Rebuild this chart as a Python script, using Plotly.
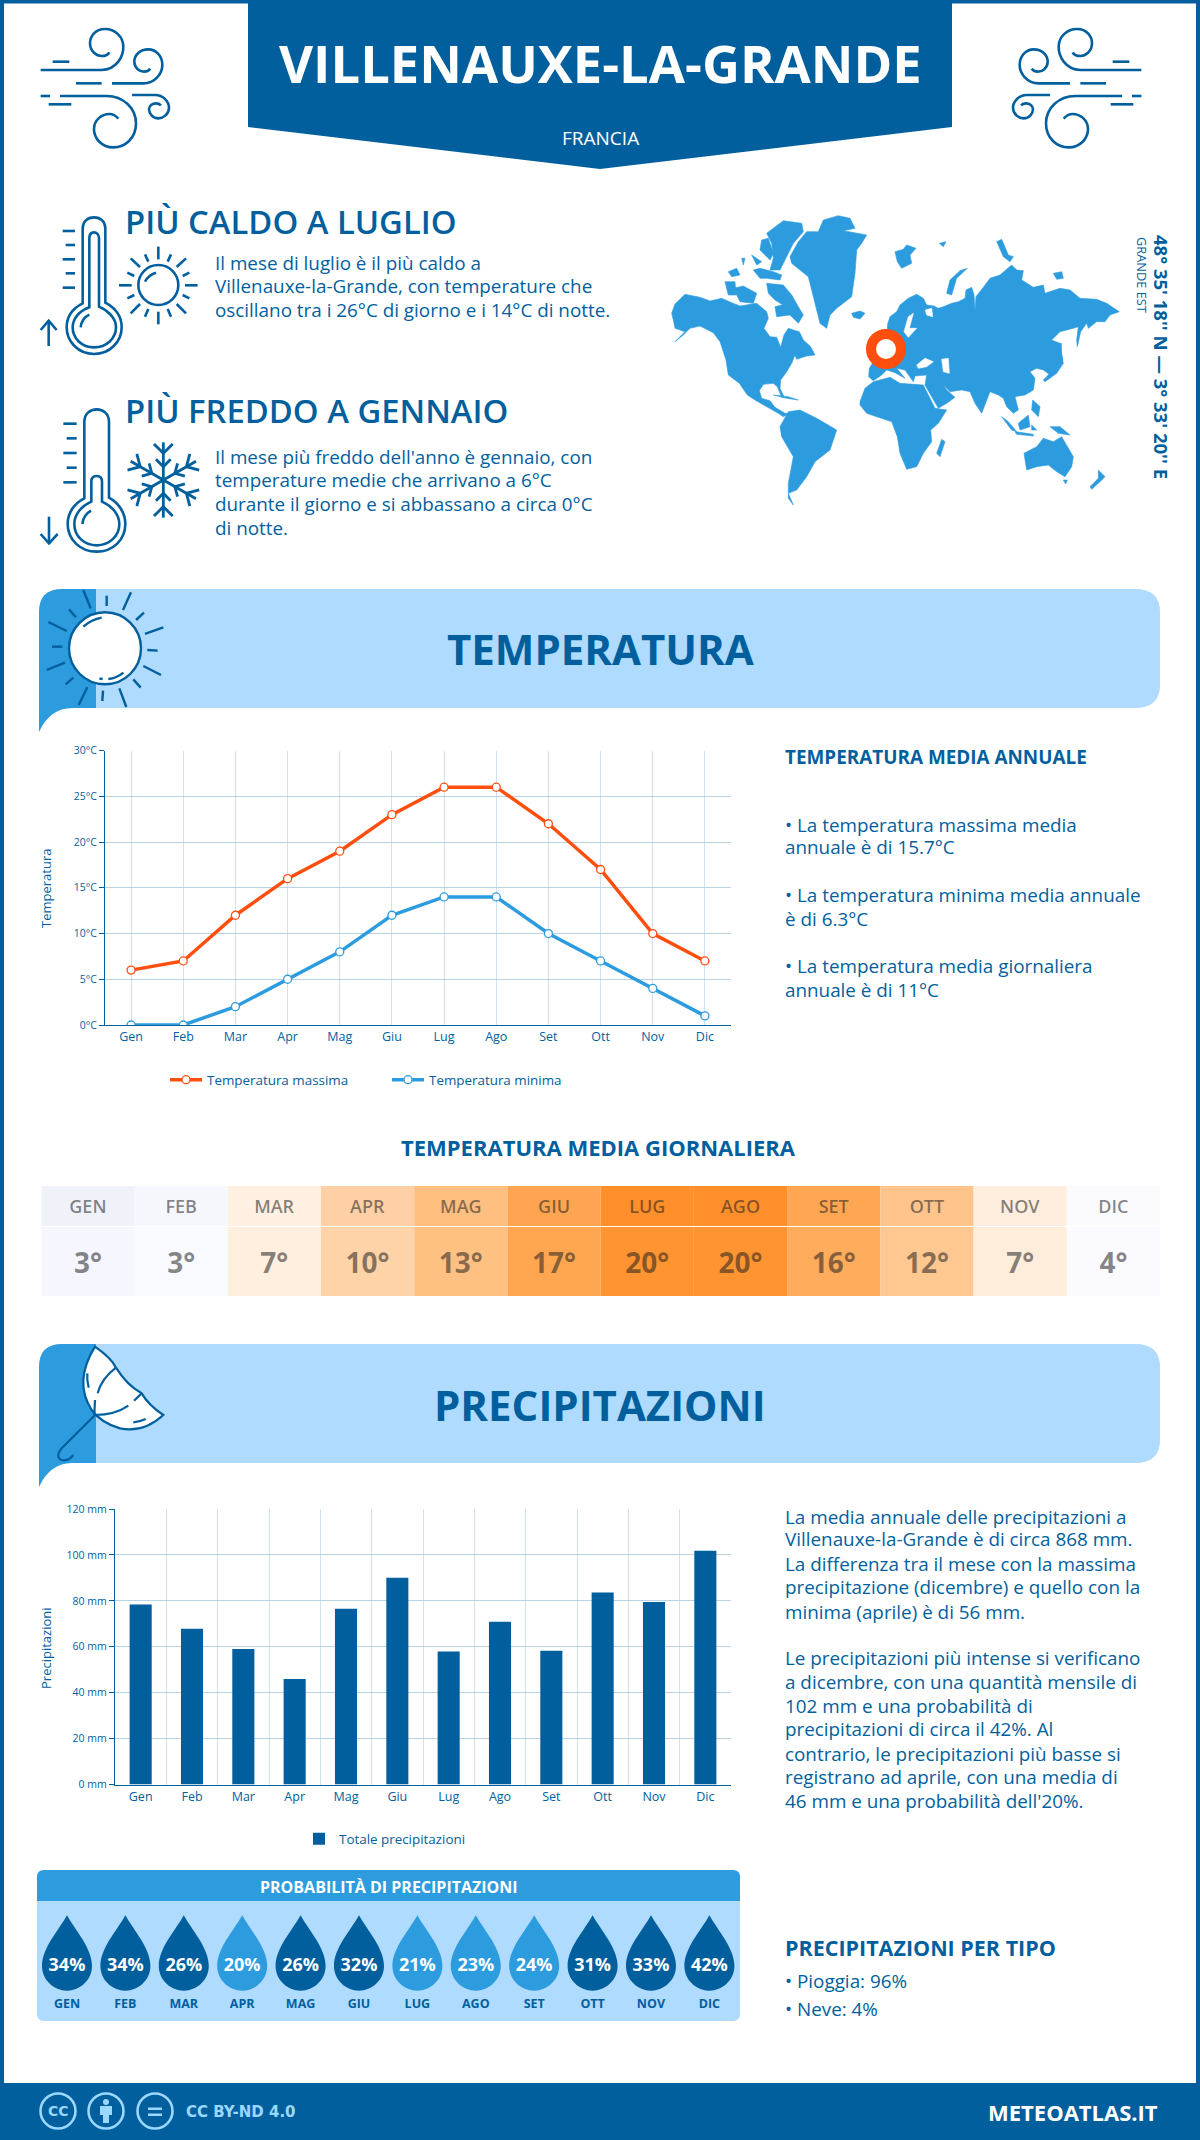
import re, math
import plotly.graph_objects as go

# ---------- data ----------
MONTHS = ["Gen","Feb","Mar","Apr","Mag","Giu","Lug","Ago","Set","Ott","Nov","Dic"]
MONTHS_UP = ["GEN","FEB","MAR","APR","MAG","GIU","LUG","AGO","SET","OTT","NOV","DIC"]
TEMP_MAX = [6,7,12,16,19,23,26,26,22,17,10,7]
TEMP_MIN = [0,0,2,5,8,12,14,14,10,7,4,1]
TEMP_AVG = [3,3,7,10,13,17,20,20,16,12,7,4]
PRECIP = [78.4,67.8,59,45.9,76.6,90,57.9,70.9,58.3,83.6,79.5,101.8]
PROB = [34,34,26,20,26,32,21,23,24,31,33,42]
VAL_COLORS = ["#f5f6ff","#f9faff","#ffefdf","#ffd3a8","#ffc182","#ffa750","#ff9430","#ff9430","#ffac5c","#ffc890","#ffeddb","#fbfbff"]
HEAD_COLORS = ["#f0f2fa","#f6f7fc","#fff0e2","#ffd0a5","#ffbf80","#ffa552","#ff8f2a","#ff8f2a","#ffa653","#ffc48b","#ffeedd","#fbfbfe"]

# ---------- style ----------
W, H = 1200, 2140
BLUE = "#025f9e"; MID = "#2d9cdf"; LIGHT = "#afdbff"; ORANGE = "#ff4e0d"; WHITE = "#ffffff"
FONT = "Open Sans"
GRID_H = "#b9d3e6"; GRID_V = "#cfe2f0"
BODY = 18.85

def X(x): return x / W
def Y(y): return 1 - y / H

shapes, annos = [], []

def conv(d, ox=0, oy=0, s=1.0, mirror=None):
    def rep(m):
        x = ox + float(m.group(1)) * s
        y = oy + float(m.group(2)) * s
        if mirror is not None:
            x = mirror - x
        return f"{X(x):.5f},{Y(y):.5f}"
    return re.sub(r"(-?[\d.]+)[, ]+(-?[\d.]+)", rep, d)

def path(d, fill=None, stroke=None, w=0, **tf):
    sh = dict(type="path", xref="paper", yref="paper", layer="below", path=conv(d, **tf))
    sh["fillcolor"] = fill if fill else "rgba(0,0,0,0)"
    sh["line"] = dict(color=stroke if stroke else "rgba(0,0,0,0)", width=w)
    shapes.append(sh)

def poly(pts, fill=MID, **tf):
    d = "M" + " L".join(f"{a},{b}" for a, b in pts) + " Z"
    path(d, fill=fill, stroke=fill, w=0.6, **tf)

def circle(cx, cy, r, fill=None, stroke=None, w=0):
    shapes.append(dict(type="circle", xref="paper", yref="paper", layer="below",
                       x0=X(cx-r), x1=X(cx+r), y0=Y(cy+r), y1=Y(cy-r),
                       fillcolor=fill if fill else "rgba(0,0,0,0)",
                       line=dict(color=stroke if stroke else "rgba(0,0,0,0)", width=w)))

def rect(x0, y0, x1, y1, fill):
    shapes.append(dict(type="rect", xref="paper", yref="paper", layer="below",
                       x0=X(x0), x1=X(x1), y0=Y(y1), y1=Y(y0), fillcolor=fill, line=dict(width=0)))

def txt(x, y, s, size=BODY, color=BLUE, weight=400, anchor="left", angle=0, family=FONT, yanchor="middle"):
    annos.append(dict(x=X(x), y=Y(y), xref="paper", yref="paper", text=s, showarrow=False,
                      xanchor=anchor, yanchor=yanchor, textangle=angle, borderpad=0, borderwidth=0,
                      font=dict(family=family, size=size, color=color, weight=weight)))

# ---------- frame ----------
rect(0, 0, W, 3.5, BLUE); rect(0, 0, 4, H, BLUE); rect(W-4, 0, W, H, BLUE)
rect(0, 2083, W, H, BLUE)
path("M248,0 L952,0 L952,127 L600,169 L248,127 Z", fill=BLUE)

# ---------- wind icons ----------
WIND = [
 "M62,180 L245,180 C290,178 310,140 310,110 C310,80 285,57 255,57 C225,57 210,80 210,100 C210,125 230,138 245,138 C255,138 265,133 268,127",
 "M276,220 L370,220 C405,220 427,190 427,165 C427,135 405,118 385,118 C360,118 343,135 343,155 C343,175 360,185 372,185 C382,185 388,180 391,176",
 "M98,155 L148,155", "M168,220 L245,220", "M62,258 L90,258",
 "M120,258 L260,258 C310,258 348,295 348,340 C348,385 315,412 280,412 C245,412 222,385 222,358 C222,330 245,312 268,312 C280,312 290,320 295,326",
 "M86,283 L154,283",
 "M336,255 L405,255 C430,255 447,275 447,293 C447,312 430,325 415,325 C398,325 387,310 387,298 C387,288 397,280 408,280 C415,280 420,283 423,286",
]
for d in WIND:
    path(d, stroke=BLUE, w=2.6, ox=20, oy=10, s=1/3)
    path(d, stroke=BLUE, w=2.6, ox=20, oy=10, s=1/3, mirror=1182)

# ---------- hot thermometer ----------
tf = dict(ox=30, oy=200, s=1/3)
for d in [
 "M158,310 L158,85 C158,65 172,52 192,52 C212,52 226,65 226,85 L226,308 C258,325 275,350 275,382 C275,425 240,462 192,462 C145,462 110,425 110,382 C110,350 128,325 158,310 Z",
 "M178,322 L178,115 C178,103 184,97 192,97 C200,97 207,103 207,115 L207,320 C235,332 258,355 258,382 C258,415 230,442 192,442 C155,442 128,415 128,382 C128,355 150,332 178,322 Z",
 "M152,382 Q155,355 178,344",
 "M98,93 L135,93","M107,135 L135,135","M98,178 L135,178","M107,220 L135,220","M98,263 L135,263",
 "M56,438 L56,362","M32,390 L56,362 L80,390",
 "M345,245 Q355,225 378,218",
 "M385,140 L385,178","M385,335 L385,373","M267,256 L305,256","M465,256 L503,256",
 "M302,175 L330,201","M468,175 L440,201","M302,340 L330,312","M468,340 L440,312",
 "M345,163 L355,185","M423,163 L413,185","M345,350 L355,327","M423,350 L413,327",
 "M292,218 L313,228","M478,218 L458,228","M292,295 L313,285","M478,295 L458,285",
]:
    path(d, stroke=BLUE, w=2.6, **tf)
circle(30+385/3, 200+255/3, 20, stroke=BLUE, w=2.6)

# ---------- cold thermometer ----------
tf = dict(ox=30, oy=400, s=1/3)
for d in [
 "M163,295 L163,65 C163,42 180,28 200,28 C220,28 237,42 237,65 L237,293 C268,310 286,340 286,372 C286,420 248,455 200,455 C152,455 113,420 113,372 C113,340 132,310 163,295 Z",
 "M184,305 L184,245 C184,233 190,228 200,228 C210,228 216,233 216,245 L216,305 C245,318 268,342 268,372 C268,408 238,436 200,436 C162,436 133,408 133,372 C133,342 155,318 184,305 Z",
 "M157,372 Q160,345 183,332",
 "M100,71 L140,71","M110,115 L140,115","M100,159 L140,159","M110,203 L140,203","M100,247 L140,247",
 "M57,350 L57,430","M32,402 L57,430 L83,402",
]:
    path(d, stroke=BLUE, w=2.6, **tf)
cx, cy = 400, 240
for a in range(6):
    t = math.radians(90 + 60*a)
    ux, uy = math.cos(t), -math.sin(t)
    vx, vy = -uy, ux
    def pt(r, o): return f"{cx+ux*r+vx*o:.1f},{cy+uy*r+vy*o:.1f}"
    path(f"M{cx},{cy} L{pt(113,0)}", stroke=BLUE, w=2.8, **tf)
    path(f"M{pt(108,-28)} L{pt(80,0)} L{pt(108,28)}", stroke=BLUE, w=2.8, **tf)
    path(f"M{pt(62,-22)} L{pt(40,0)} L{pt(62,22)}", stroke=BLUE, w=2.8, **tf)

# ---------- world map (rough outlines) ----------
mp = dict(ox=660, oy=200, s=1/3)
LAND = [
 [(35,340),(45,312),(75,283),(120,292),(150,303),(185,295),(215,308),(240,318),(290,310),(320,335),(325,355),(312,385),(330,410),(350,412),(362,442),(372,405),(385,385),(400,390),(418,395),(430,420),(452,440),(465,465),(440,468),(410,478),(405,465),(395,490),(380,515),(362,540),(360,565),(372,590),(365,592),(352,560),(340,550),(310,553),(298,572),(305,595),(330,602),(345,622),(375,640),(390,640),(370,650),(355,640),(320,620),(285,600),(262,585),(238,550),(205,525),(198,480),(180,425),(160,398),(120,378),(90,385),(70,405),(45,425),(60,410),(75,395),(45,385),(40,360)],
 [(195,245),(225,245),(228,285),(205,285)],
 [(220,265),(250,258),(290,280),(280,310),(240,305)],
 [(205,215),(230,205),(240,225),(215,230)],
 [(280,210),(300,205),(340,215),(365,225),(360,240),(320,235),(300,235)],
 [(320,250),(370,255),(395,285),(415,320),(430,345),(415,370),(390,345),(385,325),(345,300),(325,280)],
 [(305,120),(325,115),(340,160),(330,180),(300,150)],
 [(320,100),(370,62),(425,70),(430,95),(400,130),(385,160),(360,210),(330,210),(340,175),(335,130)],
 [(245,175),(255,175),(250,195)], [(275,165),(305,185),(290,195)], [(345,320),(385,310),(390,345),(350,350)],
 [(415,125),(440,95),(475,95),(490,60),(535,47),(570,55),(585,85),(550,92),(620,105),(605,130),(590,150),(585,220),(575,290),(530,325),(510,345),(500,385),(480,370),(465,310),(445,230),(395,190),(390,170)],
 [(575,340),(600,333),(615,340),(600,357),(580,352)],
 [(705,155),(730,148),(740,135),(768,145),(750,165),(755,190),(725,205),(712,185)],
 [(838,130),(858,125),(850,140)],
 [(860,280),(870,240),(900,212),(922,205),(890,235),(875,285)],
 [(1010,125),(1025,118),(1045,165),(1060,170),(1050,185),(1030,170)],
 [(1180,220),(1205,215),(1210,235),(1190,238)],
 # Eurasia
 [(683,372),(690,350),(710,335),(720,315),(745,295),(770,283),(790,295),(800,315),(822,318),(835,325),(850,320),(875,310),(895,305),(915,295),(918,270),(935,262),(942,285),(945,330),(948,290),(970,262),(990,235),(1020,225),(1055,195),(1070,210),(1090,212),(1085,240),(1120,262),(1150,255),(1155,280),(1200,265),(1230,270),(1260,295),(1310,298),(1340,310),(1378,335),(1350,345),(1335,365),(1310,365),(1285,385),(1280,370),(1262,395),(1252,440),(1250,420),(1255,380),(1240,385),(1200,395),(1175,420),(1200,430),(1208,480),(1195,500),(1170,525),(1150,510),(1130,505),(1110,515),(1125,535),(1120,570),(1095,585),(1065,590),(1075,630),(1060,640),(1040,620),(1030,595),(1015,585),(990,575),(965,640),(945,610),(930,575),(905,570),(870,575),(850,555),(860,570),(885,592),(860,610),(835,625),(815,590),(795,555),(800,525),(765,528),(760,545),(735,510),(710,505),(735,535),(705,518),(680,510),(665,525),(640,542),(626,530),(628,505),(680,420)],
 # Africa
 [(600,605),(615,565),(640,545),(690,532),(720,550),(790,555),(825,625),(860,630),(835,670),(812,690),(815,725),(790,760),(770,800),(740,808),(720,760),(712,710),(695,665),(650,650),(620,640),(600,615)],
 [(845,718),(855,725),(840,770),(830,760)],
 # South America
 [(360,680),(385,635),(420,630),(470,655),(530,690),(510,750),(465,785),(440,830),(410,870),(385,880),(400,915),(385,895),(385,850),(400,770),(365,710)],
 [(340,585),(385,590),(415,600),(380,595)],
 # Asia islands
 [(1150,540),(1200,490),(1205,465),(1210,490),(1190,520),(1155,545)],
 [(1198,430),(1204,430),(1205,490),(1200,490)],
 [(1118,600),(1140,620),(1135,650),(1115,630)],
 [(1075,670),(1105,645),(1110,680),(1080,690)],
 [(1025,650),(1045,665),(1070,695),(1055,690)],
 [(1065,695),(1120,703),(1120,708),(1070,703)],
 [(1115,675),(1130,690),(1115,690)],
 [(1170,680),(1200,680),(1230,705),(1195,700)],
 # Oceania
 [(1092,760),(1130,740),(1150,715),(1180,725),(1205,710),(1240,770),(1235,800),(1215,830),(1190,815),(1165,795),(1130,800),(1100,810)],
 [(1210,840),(1222,840),(1217,852)],
 [(1315,810),(1335,830),(1320,845),(1295,868),(1290,860),(1315,835)],
]
for p in LAND:
    poly(p, **mp)
for p in [
 [(845,478),(865,475),(868,520),(850,515)],
 [(770,495),(795,475),(820,485),(800,500),(775,505)],
 [(760,340),(745,350),(732,395),(745,412),(770,385),(748,385)],
 [(796,330),(815,325),(818,350),(800,345)],
]:
    poly(p, fill=WHITE, **mp)
circle(886, 349, 15, fill=WHITE, stroke=ORANGE, w=10)

# ---------- banners ----------
def banner(t):
    b = t + 119
    path(f"M96,{t} L1135,{t} Q1160,{t} 1160,{t+23} L1160,{b-23} Q1160,{b} 1135,{b} L96,{b} Z", fill=LIGHT)
    path(f"M39,{b+24} L39,{t+23} Q39,{t} 62,{t} L96,{t} L96,{b} L72,{b} Q50,{b} 39,{b+24} Z", fill=MID)
banner(589); banner(1344)

tf = dict(ox=30, oy=580, s=1/3)
circle(105, 648.3, 36, fill=WHITE, stroke=BLUE, w=2.4)
for d in ["M160,30 L182,85","M230,47 L230,78","M303,37 L279,90","M342,98 L318,120","M400,142 L345,162","M383,212 L352,210",
          "M393,285 L340,258","M332,323 L310,298","M268,325 L289,381","M219,332 L217,363","M172,322 L146,375","M130,293 L107,313",
          "M105,248 L50,270","M97,200 L66,200","M110,153 L55,126","M138,112 L117,88",
          "M160,140 Q185,118 215,113","M235,297 Q260,295 280,278","M208,296 L218,297"]:
    path(d, stroke=BLUE, w=2.4, **tf)

tf = dict(ox=30, oy=1335, s=1/3)
path("M195,35 Q245,70 258,98 Q290,150 335,175 Q355,210 400,240 Q340,295 270,280 Q215,265 185,225 Q130,140 195,35 Z", fill=WHITE, stroke=BLUE, w=2.2, **tf)
for d in ["M258,98 Q215,130 203,175","M335,175 L312,197","M295,212 Q255,240 195,240","M195,195 L193,240",
          "M172,115 Q170,135 176,158","M310,262 Q330,260 347,252","M195,240 L95,340 Q75,365 95,375 Q115,380 130,360"]:
    path(d, stroke=BLUE, w=2.2, **tf)

# ---------- probability panel ----------
path("M37,1877 Q37,1870 44,1870 L733,1870 Q740,1870 740,1877 L740,1901 L37,1901 Z", fill=MID)
path("M37,1901 L740,1901 L740,2014 Q740,2021 733,2021 L44,2021 Q37,2021 37,2014 Z", fill=LIGHT)
DROP = "M0,-50.7 C-8,-36 -25,-18 -25,0 C-25,14 -13,24.7 0,24.7 C13,24.7 25,14 25,0 C25,-18 8,-36 0,-50.7 Z"
for i, v in enumerate(PROB):
    path(DROP, fill=BLUE if v >= 26 else MID, ox=67 + 58.4*i, oy=1966)

# ---------- footer icons ----------
FOOT = "#9ad8ff"
for c in (58, 106, 155):
    circle(c, 2111, 17.5, stroke=FOOT, w=2.6)
circle(106, 2102, 3, fill=FOOT)
path("M100,2106 L112,2106 L112,2115 L109,2115 L109,2123 L103,2123 L103,2115 L100,2115 Z", fill=FOOT)
rect(148, 2107.5, 162, 2110, FOOT); rect(148, 2113.5, 162, 2116, FOOT)

# ---------- text ----------
txt(600, 62, "VILLENAUXE-LA-GRANDE", 52.5, WHITE, 700, "center")
txt(600, 138, "FRANCIA", 19, WHITE, 400, "center")
txt(125, 221, "PIÙ CALDO A LUGLIO", 32.8, BLUE, 600)
for y, s in zip((262.7, 286, 310), ("Il mese di luglio è il più caldo a", "Villenauxe-la-Grande, con temperature che", "oscillano tra i 26°C di giorno e i 14°C di notte.")):
    txt(215, y, s)
txt(125, 410.7, "PIÙ FREDDO A GENNAIO", 32.8, BLUE, 600)
for y, s in zip((457, 480, 504, 528), ("Il mese più freddo dell'anno è gennaio, con", "temperature medie che arrivano a 6°C", "durante il giorno e si abbassano a circa 0°C", "di notte.")):
    txt(215, y, s)
txt(1162, 235, "48° 35' 18'' N — 3° 33' 20'' E", 18.5, BLUE, 700, "center", 90, yanchor="top")
txt(1142, 237, "GRANDE EST", 12.8, BLUE, 400, "center", 90, yanchor="top")
txt(600, 648, "TEMPERATURA", 42, BLUE, 700, "center")
txt(600, 1404, "PRECIPITAZIONI", 42, BLUE, 700, "center")
txt(785, 757, "TEMPERATURA MEDIA ANNUALE", 18.9, BLUE, 700)
for y, s in zip((825, 847, 895, 919, 966, 990.5), ("• La temperatura massima media", "annuale è di 15.7°C", "• La temperatura minima media annuale", "è di 6.3°C", "• La temperatura media giornaliera", "annuale è di 11°C")):
    txt(785, y, s)
txt(598.5, 1147, "TEMPERATURA MEDIA GIORNALIERA", 22, BLUE, 700, "center")
txt(46, 889, "Temperatura", 13, BLUE, 400, "center", -90)
txt(46, 1648, "Precipitazioni", 13, BLUE, 400, "center", -90)
for y, s in zip((1516.5, 1539, 1563.5, 1587, 1611.5, 1658, 1682.3, 1706, 1729, 1753.6, 1777, 1801),
    ("La media annuale delle precipitazioni a", "Villenauxe-la-Grande è di circa 868 mm.", "La differenza tra il mese con la massima", "precipitazione (dicembre) e quello con la", "minima (aprile) è di 56 mm.",
     "Le precipitazioni più intense si verificano", "a dicembre, con una quantità mensile di", "102 mm e una probabilità di", "precipitazioni di circa il 42%. Al", "contrario, le precipitazioni più basse si", "registrano ad aprile, con una media di", "46 mm e una probabilità dell'20%.")):
    txt(785, y, s)
txt(389, 1887, "PROBABILITÀ DI PRECIPITAZIONI", 16, WHITE, 700, "center")
txt(785, 1947, "PRECIPITAZIONI PER TIPO", 21.5, BLUE, 700)
txt(785, 1981, "• Pioggia: 96%")
txt(785, 2009, "• Neve: 4%")
txt(58, 2111, "CC", 14, FOOT, 700, "center", family="DejaVu Sans")
txt(185.5, 2112, "CC BY-ND 4.0", 15, FOOT, 700, family="DejaVu Sans")
txt(1158, 2112, "METEOATLAS.IT", 22, WHITE, 700, "right")

# ---------- traces ----------
fig = go.Figure()
fig.add_trace(go.Scatter(x=MONTHS, y=TEMP_MAX, name="Temperatura massima", mode="lines+markers", xaxis="x", yaxis="y",
    line=dict(color=ORANGE, width=3.5), marker=dict(size=8, color=WHITE, line=dict(color=ORANGE, width=1.3)), legend="legend"))
fig.add_trace(go.Scatter(x=MONTHS, y=TEMP_MIN, name="Temperatura minima", mode="lines+markers", xaxis="x", yaxis="y",
    line=dict(color=MID, width=3.5), marker=dict(size=8, color=WHITE, line=dict(color=MID, width=1.3)), legend="legend"))
fig.add_trace(go.Bar(x=MONTHS, y=PRECIP, name="Totale precipitazioni", width=0.43, xaxis="x2", yaxis="y2",
    marker=dict(color=BLUE, line=dict(width=0)), legend="legend2"))

CELL_TXT = "rgba(30,30,30,0.55)"
fig.add_trace(go.Bar(x=MONTHS_UP, y=[69]*12, base=0, width=1, xaxis="x3", yaxis="y3", showlegend=False,
    marker=dict(color=VAL_COLORS, line=dict(width=0)), text=[f"{v}°" for v in TEMP_AVG], textposition="inside",
    insidetextanchor="middle", textangle=0, cliponaxis=False,
    textfont=dict(family=FONT, size=28, color=CELL_TXT, weight=700)))
fig.add_trace(go.Bar(x=MONTHS_UP, y=[40]*12, base=70, width=1, xaxis="x3", yaxis="y3", showlegend=False,
    marker=dict(color=HEAD_COLORS, line=dict(width=0)), text=MONTHS_UP, textposition="inside",
    insidetextanchor="middle", textangle=0, cliponaxis=False,
    textfont=dict(family=FONT, size=18, color=CELL_TXT, weight=600)))

fig.add_trace(go.Scatter(x=MONTHS_UP, y=[1]*12, mode="text", text=[f"{v}%" for v in PROB], xaxis="x4", yaxis="y4", showlegend=False,
    textposition="middle center", textfont=dict(family=FONT, size=18, color=WHITE, weight=700)))
fig.add_trace(go.Scatter(x=MONTHS_UP, y=[0]*12, mode="text", text=MONTHS_UP, xaxis="x4", yaxis="y4", showlegend=False,
    textposition="middle center", textfont=dict(family=FONT, size=12.5, color=BLUE, weight=700)))

def xax(x0, x1, **k):
    d = dict(domain=[X(x0), X(x1)], type="category", showline=True, linecolor=BLUE, linewidth=1.2, ticks="",
             tickfont=dict(family=FONT, size=12.5, color=BLUE), fixedrange=True)
    d.update(k); return d
def yax(y0, y1, **k):
    d = dict(domain=[Y(y1), Y(y0)], showline=True, linecolor=BLUE, linewidth=1.2, ticks="outside", ticklen=5, tickcolor=BLUE,
             tickfont=dict(family=FONT, size=10.5, color=BLUE), gridcolor=GRID_H, gridwidth=1, zeroline=False, fixedrange=True)
    d.update(k); return d
hidden = dict(visible=False, fixedrange=True)

fig.update_layout(
    width=W, height=H, autosize=False, margin=dict(l=0, r=0, t=0, b=0, autoexpand=False), paper_bgcolor=WHITE, plot_bgcolor="rgba(0,0,0,0)",
    barmode="overlay", hovermode=False, font=dict(family=FONT, color=BLUE),
    shapes=shapes, annotations=annos,
    xaxis=xax(105, 731, showgrid=True, gridcolor=GRID_V, anchor="y", range=[-0.5, 11.5]),
    yaxis=yax(750.6, 1025, range=[0, 30], dtick=5, ticksuffix="°C", anchor="x"),
    xaxis2=xax(115, 731, showgrid=True, gridcolor=GRID_V, tickson="boundaries", anchor="y2", range=[-0.5, 11.5]),
    yaxis2=yax(1509, 1784.5, range=[0, 120], dtick=20, ticksuffix=" mm", anchor="x2"),
    xaxis3=dict(domain=[X(41.3), X(1160)], type="category", range=[-0.5, 11.5], anchor="y3", **hidden),
    yaxis3=dict(domain=[Y(1296), Y(1186)], range=[0, 110], anchor="x3", **hidden),
    xaxis4=dict(domain=[X(37.8), X(738.6)], type="category", range=[-0.5, 11.5], anchor="y4", **hidden),
    yaxis4=dict(domain=[Y(2021), Y(1901)], range=[-(2021-2004.7)/38, (2004.7-1901)/38], anchor="x4", **hidden),
    legend=dict(x=X(387), y=Y(1080), xanchor="center", yanchor="middle", orientation="h", bgcolor="rgba(0,0,0,0)",
                font=dict(family=FONT, size=13.4, color=BLUE), itemwidth=32, entrywidth=175, entrywidthmode="pixels"),
    legend2=dict(x=X(385), y=Y(1839), xanchor="center", yanchor="middle", orientation="h", bgcolor="rgba(0,0,0,0)",
                 font=dict(family=FONT, size=13.4, color=BLUE)),
)
fig.write_html("out.html", config=dict(displayModeBar=False, responsive=False),
               post_script="document.body.style.margin='0';document.body.style.overflow='hidden';")
